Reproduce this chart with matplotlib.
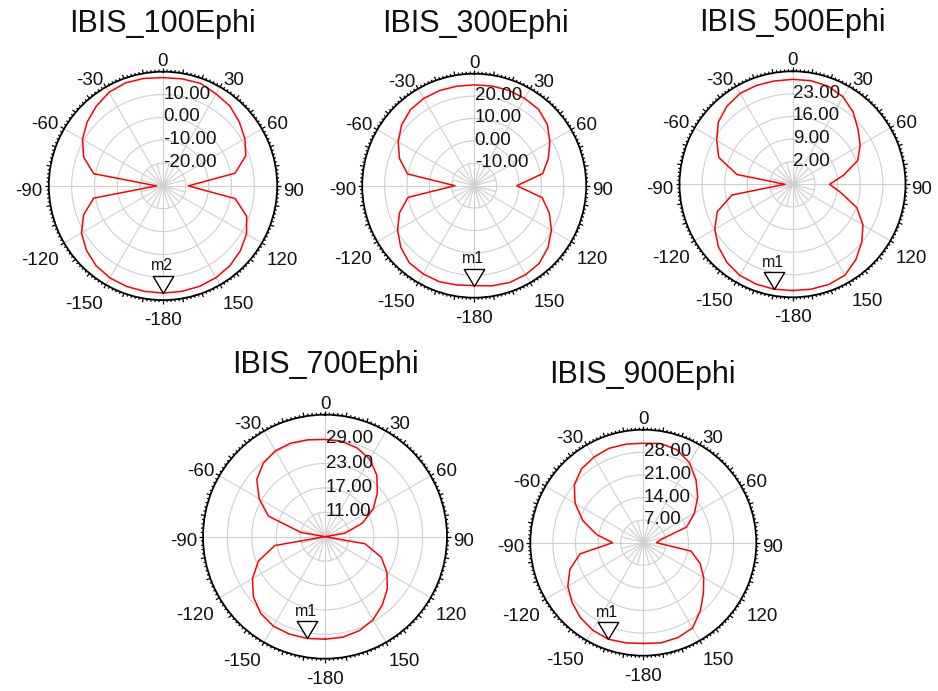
import numpy as np
import matplotlib
matplotlib.use("Agg")
import matplotlib.pyplot as plt
from matplotlib.path import Path

plt.rcParams['font.family'] = ['Liberation Sans', 'DejaVu Sans']

W, H, DPI = 938, 691, 100

# Azimuth samples (deg) shared by every pattern
PHI = list(range(-180, 180, 10))

# Gain (dB) per azimuth for each frequency
GAIN_100 = [16.9, 16.9, 16.8, 16.5, 15.6, 13.8, 11.2, 7.0, 0.8, -27.2,
            0.8, 7.0, 10.7, 13.4, 15.5, 17.3, 18.0, 17.8, 17.4, 17.6,
            17.8, 16.5, 15.6, 13.6, 11.4, 8.6, 2.0, -18.9, 2.1, 9.0,
            12.2, 14.2, 15.6, 16.4, 16.8, 16.9]
GAIN_300 = [24.6, 25.0, 25.6, 25.5, 25.0, 22.8, 19.5, 15.5, 10.0, -11.4,
            10.2, 15.5, 19.2, 22.3, 24.3, 25.0, 25.2, 25.1, 25.0, 25.2,
            25.3, 25.0, 24.6, 22.6, 19.0, 15.2, 11.0, -1.0, 10.8, 15.7,
            19.8, 23.0, 25.2, 25.9, 26.0, 25.4]
GAIN_500 = [27.9, 28.0, 27.9, 27.6, 26.6, 25.0, 22.8, 19.8, 14.0, -2.7,
            12.5, 19.3, 22.1, 25.0, 26.6, 27.5, 27.6, 27.5, 27.5, 27.6,
            27.3, 26.3, 24.2, 21.5, 19.2, 16.5, 11.0, 6.5, 10.3, 16.2,
            20.2, 23.0, 25.5, 27.5, 28.0, 28.0]
GAIN_700 = [30.2, 30.4, 30.5, 30.4, 29.6, 28.0, 25.6, 22.4, 17.5, 4.0,
            11.0, 19.8, 23.7, 26.9, 28.6, 29.4, 29.5, 29.2, 28.9, 28.8,
            28.2, 27.0, 24.8, 21.8, 18.7, 14.8, 10.0, 4.0, 15.0, 19.7,
            22.6, 25.0, 26.9, 28.6, 29.6, 30.1]
GAIN_900 = [31.2, 31.5, 31.8, 31.3, 30.3, 28.8, 27.0, 24.2, 19.9, 9.5,
            14.7, 19.9, 24.4, 27.9, 29.8, 30.6, 31.1, 31.0, 30.8, 31.2,
            30.6, 28.6, 25.4, 22.0, 18.3, 14.3, 5.5, 4.1, 15.0, 18.7,
            21.6, 24.3, 27.5, 30.5, 31.3, 31.5]

# Radial grid values (dB) and axis ranges
RTICKS_100 = [-20, -10, 0, 10]
RTICKS_300 = [-10, 0, 10, 20]
RTICKS_500 = [2, 9, 16, 23]
RTICKS_700 = [11, 17, 23, 29]
RTICKS_900 = [7, 14, 21, 28]
RANGE_100 = (-30, 20)
RANGE_300 = (-20, 30)
RANGE_500 = (-5, 30)
RANGE_700 = (5, 35)
RANGE_900 = (0, 35)

# Azimuth labels
THETA_ANGLES = [0, 30, 60, 90, 120, 150, 180, -150, -120, -90, -60, -30]
THETA_LABELS = ['0', '30', '60', '90', '120', '150', '-180', '-150',
                '-120', '-90', '-60', '-30']

TITLES = ['IBIS_100Ephi', 'IBIS_300Ephi', 'IBIS_500Ephi',
          'IBIS_700Ephi', 'IBIS_900Ephi']
MARKER_NAMES = ['m2', 'm1', 'm1', 'm1', 'm1']
MARKER_PHI = [-180, -180, -170, -170, -160]

GAINS = [GAIN_100, GAIN_300, GAIN_500, GAIN_700, GAIN_900]
RTICKS = [RTICKS_100, RTICKS_300, RTICKS_500, RTICKS_700, RTICKS_900]
RANGES = [RANGE_100, RANGE_300, RANGE_500, RANGE_700, RANGE_900]

# Layout in pixels: plot centre, outer radius, title position
LAYOUT = [
    dict(cx=163.0, cy=185.9, R=114.2, tx=162.0, ty=31.7),
    dict(cx=474.2, cy=185.7, R=112.0, tx=475.0, ty=32.3),
    dict(cx=792.5, cy=184.3, R=113.0, tx=792.0, ty=30.7),
    dict(cx=325.0, cy=536.7, R=122.0, tx=325.0, ty=373.0),
    dict(cx=643.3, cy=542.7, R=113.0, tx=642.5, ty=382.7),
]

GRID = '#cfcfcf'
TXT = '#111111'
LABEL_FS = 13.5
CAP = 0.716 * LABEL_FS * DPI / 72.0

marker_path = Path([(0, 0), (-0.6, 1.0), (0.6, 1.0), (0, 0)],
                   [Path.MOVETO, Path.LINETO, Path.LINETO, Path.CLOSEPOLY])

fig = plt.figure(figsize=(W / DPI, H / DPI), dpi=DPI)
fig.patch.set_facecolor('white')


def fx(x):
    return x / W


def fy(y):
    return 1.0 - y / H


for i in range(5):
    lay = LAYOUT[i]
    cx, cy, R = lay['cx'], lay['cy'], lay['R']
    rmin, rmax = RANGES[i]
    per_px = (rmax - rmin) / R
    ax = fig.add_axes([fx(cx - R), fy(cy + R), 2 * R / W, 2 * R / H],
                      projection='polar')
    ax.set_theta_zero_location('N')
    ax.set_theta_direction(-1)
    ax.set_ylim(rmin, rmax)
    ax.grid(False)
    ax.set_yticks([])
    ax.set_xticks([])
    ax.spines['polar'].set_color('black')
    ax.spines['polar'].set_linewidth(1.3)

    # outer tick marks: every 2 deg, longer every 10 deg
    for a in range(0, 360, 2):
        ln = 4.0 if a % 10 == 0 else 2.2
        ax.plot([np.deg2rad(a)] * 2, [rmax, rmax + ln * per_px],
                color='black', lw=0.9, clip_on=False, zorder=4,
                solid_capstyle='butt')

    # grid rings and spokes
    t = np.linspace(0, 2 * np.pi, 721)
    for rv in RTICKS[i]:
        ax.plot(t, np.full_like(t, rv), color=GRID, lw=0.8, zorder=1)
    for a in range(0, 360, 30):
        ax.plot([np.deg2rad(a)] * 2, [rmin, rmax], color=GRID, lw=0.8, zorder=1)
    for a in range(15, 360, 30):
        ax.plot([np.deg2rad(a)] * 2, [rmin, RTICKS[i][0]], color=GRID,
                lw=0.8, zorder=1)

    # pattern
    phi = np.array(PHI + [PHI[0] + 360], dtype=float)
    g = np.array(GAINS[i] + [GAINS[i][0]], dtype=float)
    ax.plot(np.deg2rad(phi), np.maximum(g, rmin), color='#ff0000', lw=1.1,
            zorder=3)

    # marker on the pattern
    mphi = MARKER_PHI[i]
    mg = GAINS[i][PHI.index(mphi)]
    ax.plot([np.deg2rad(mphi)], [mg], marker=marker_path, ms=24.5,
            mfc='white', mec='black', mew=1.0, ls='none', zorder=5,
            clip_on=False)
    ax.annotate(MARKER_NAMES[i], xy=(np.deg2rad(mphi), mg),
                xytext=(-0.7, 16.3), textcoords='offset points',
                ha='center', va='baseline', fontsize=11.5, color=TXT,
                zorder=6, annotation_clip=False)

    # radial value labels along the 0 deg spoke
    for rv in RTICKS[i]:
        rp = (rv - rmin) / (rmax - rmin) * R
        fig.text(fx(cx + 0.5), fy(cy - rp + 4.0), f'{rv:.2f}', ha='left',
                 va='baseline', fontsize=LABEL_FS, color=TXT)

    # azimuth labels
    for ang, lab in zip(THETA_ANGLES, THETA_LABELS):
        th = np.deg2rad(ang)
        s, c = np.sin(th), np.cos(th)
        x = cx + (R + 6.0) * s
        ha = 'left' if s > 0.05 else ('right' if s < -0.05 else 'center')
        if c > 0.05:
            base = cy - (R + 6.0) * c + (0.0 if ang == 0 else 3.5)
        elif c < -0.05:
            base = cy + (R + 6.0) * (-c) + 5.5 + CAP
        else:
            base = cy + 3.0 + CAP / 2
        fig.text(fx(x), fy(base), lab, ha=ha, va='baseline',
                 fontsize=LABEL_FS, color=TXT)

    fig.text(fx(lay['tx']), fy(lay['ty']), TITLES[i], ha='center',
             va='baseline', fontsize=22, color=TXT)

fig.savefig('out.png', dpi=DPI, facecolor='white')
